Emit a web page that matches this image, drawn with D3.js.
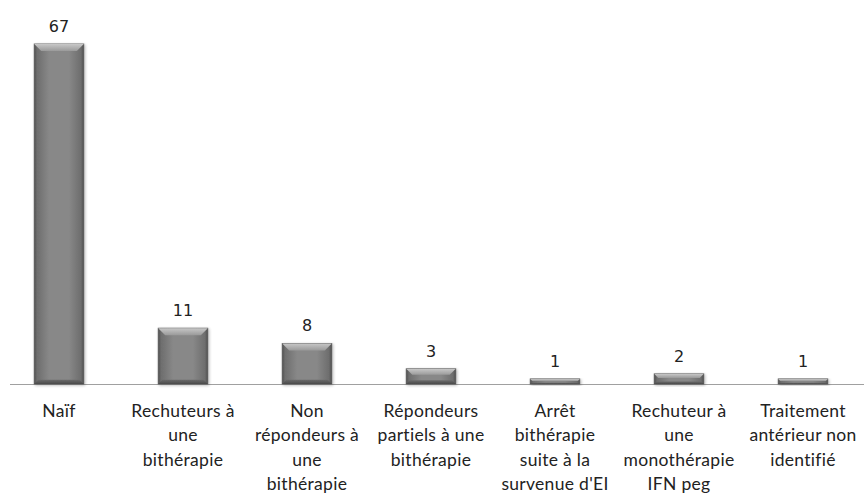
<!DOCTYPE html>
<html><head><meta charset="utf-8">
<script src="https://cdn.jsdelivr.net/npm/d3@7"></script>
<style>body{margin:0;background:#fff}svg{display:block}</style>
</head><body>
<script>
const categories = ["Naïf","Rechuteurs à une bithérapie","Non répondeurs à une bithérapie","Répondeurs partiels à une bithérapie","Arrêt bithérapie suite à la survenue d'EI","Rechuteur à une monothérapie IFN peg","Traitement antérieur non identifié"];
const labelLines = [["Naïf"],["Rechuteurs à","une","bithérapie"],["Non","répondeurs à","une","bithérapie"],["Répondeurs","partiels à une","bithérapie"],["Arrêt","bithérapie","suite à la","survenue d'EI"],["Rechuteur à","une","monothérapie","IFN peg"],["Traitement","antérieur non","identifié"]];
const values = [67,11,8,3,1,2,1];

const W=864,H=493;
const svg=d3.select("body").append("svg").attr("width",W).attr("height",H);
const x=d3.scaleBand().domain(categories).range([-3,865]).paddingInner(0.6).paddingOuter(0.3);
const y=d3.scaleLinear().domain([0,67]).range([384,44]);
const defs=svg.append("defs");
const g1=defs.append("linearGradient").attr("id","body").attr("x1",0).attr("x2",1).attr("y1",0).attr("y2",0);
[[0,"#505050"],[0.06,"#6e6e6e"],[0.3,"#888"],[0.7,"#888"],[0.94,"#6e6e6e"],[1,"#505050"]].forEach(s=>g1.append("stop").attr("offset",s[0]).attr("stop-color",s[1]));
const g2=defs.append("linearGradient").attr("id","top").attr("x1",0).attr("x2",0).attr("y1",0).attr("y2",1);
[[0,"#c8c8c8"],[1,"#9a9a9a"]].forEach(s=>g2.append("stop").attr("offset",s[0]).attr("stop-color",s[1]));
const g3=defs.append("linearGradient").attr("id","bot").attr("x1",0).attr("x2",0).attr("y1",0).attr("y2",1);
[[0,"#6a6a6a"],[1,"#4a4a4a"]].forEach(s=>g3.append("stop").attr("offset",s[0]).attr("stop-color",s[1]));
const flt=defs.append("filter").attr("id","sh").attr("x","-20%").attr("y","-20%").attr("width","140%").attr("height","140%");
flt.append("feGaussianBlur").attr("in","SourceAlpha").attr("stdDeviation",1.5).attr("result","b");
flt.append("feOffset").attr("dx",1).attr("dy",1).attr("result","o");
flt.append("feComponentTransfer").append("feFuncA").attr("type","linear").attr("slope",0.3);
const m=flt.append("feMerge");m.append("feMergeNode");m.append("feMergeNode").attr("in","SourceGraphic");

svg.append("line").attr("x1",10).attr("x2",864).attr("y1",384.5).attr("y2",384.5).attr("stroke","#a0a0a0").attr("stroke-width",1.2);

const bars=svg.selectAll("g.bar").data(values).join("g").attr("class","bar").attr("filter","url(#sh)");
bars.each(function(v,i){
  const g=d3.select(this);
  const x0=x(categories[i]),w=x.bandwidth(),y0=y(v),h=y(0)-y(v);
  const bv=Math.min(7,h/2.5);
  g.append("rect").attr("x",x0).attr("y",y0).attr("width",w).attr("height",h).attr("fill","url(#body)").attr("stroke","#555").attr("stroke-width",0.8);
  g.append("path").attr("d",`M${x0},${y0}L${x0+w},${y0}L${x0+w-bv},${y0+bv}L${x0+bv},${y0+bv}Z`).attr("fill","url(#top)");
  g.append("path").attr("d",`M${x0},${y0+h}L${x0+w},${y0+h}L${x0+w-bv*0.6},${y0+h-bv*0.6}L${x0+bv*0.6},${y0+h-bv*0.6}Z`).attr("fill","url(#bot)");
});

svg.selectAll("text.val").data(values).join("text").attr("class","val")
  .attr("x",(d,i)=>x(categories[i])+x.bandwidth()/2).attr("y",d=>y(d)-12)
  .attr("text-anchor","middle").attr("font-family","DejaVu Sans, sans-serif").attr("font-size",16).attr("fill","#222").text(d=>d);

const lab=svg.selectAll("text.lab").data(labelLines).join("text").attr("class","lab")
  .attr("x",(d,i)=>x(categories[i])+x.bandwidth()/2).attr("y",417)
  .attr("text-anchor","middle").attr("font-family","Lato, sans-serif").attr("font-size",17.5).attr("letter-spacing",0.3).attr("fill","#222");
lab.each(function(lines){
  const t=d3.select(this),cx=t.attr("x");
  lines.forEach((l,j)=>t.append("tspan").attr("x",cx).attr("dy",j?24.3:0).text(l));
});
</script>
</body></html>
